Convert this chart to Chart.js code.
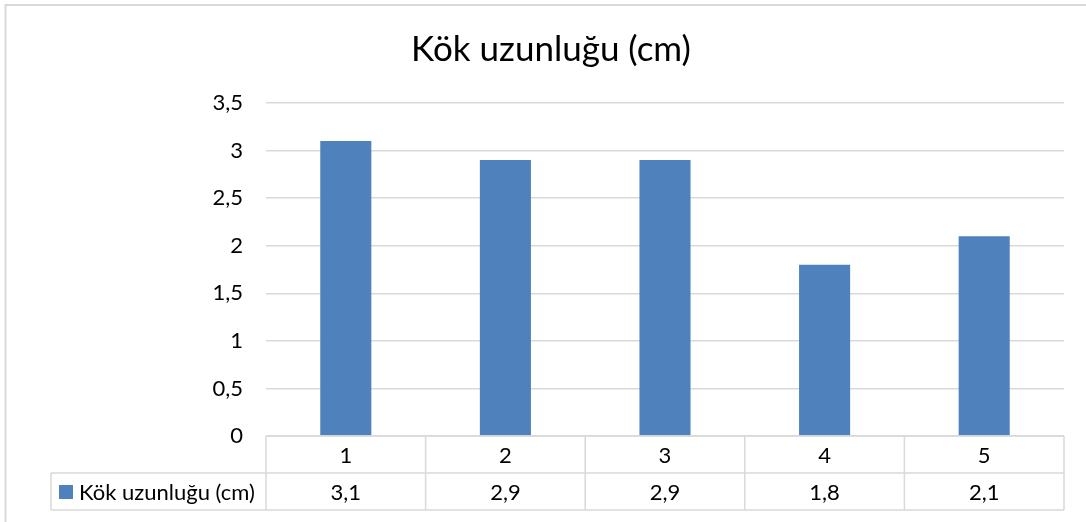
<!DOCTYPE html>
<html>
<head>
<meta charset="utf-8">
<script src="https://cdn.jsdelivr.net/npm/chart.js@4"></script>
<style>
    html, body { margin: 0; padding: 0; background: #fff; }
    #wrap { width: 1086px; height: 522px; }
</style>
</head>
<body>
<div id="wrap"><canvas id="rootChart"></canvas></div>
<script>
// Chart data
const categories = ['1', '2', '3', '4', '5'];
const rootLengths = [3.1, 2.9, 2.9, 1.8, 2.1];
const seriesName = 'Kök uzunluğu (cm)';
const chartTitle = 'Kök uzunluğu (cm)';

const FONT = "Lato, 'Open Sans', sans-serif";
const GRID = '#d9d9d9';
const BAR = '#4f81bd';

// format numbers with a decimal comma
const fmt = v => String(v).replace('.', ',');

// Draws the outer frame, the title and the data table under the plot
const excelDecor = {
    id: 'excelDecor',
    afterDraw(chart) {
        const { ctx, chartArea, scales } = chart;
        const x = scales.x;
        const rowH = 37;
        const top = chartArea.bottom;
        const legendLeft = 51;

        ctx.save();

        // outer frame
        ctx.strokeStyle = GRID;
        ctx.lineWidth = 2;
        ctx.beginPath();
        ctx.moveTo(5.5, 530);
        ctx.lineTo(5.5, 5);
        ctx.lineTo(1100, 5);
        ctx.stroke();

        // title
        ctx.fillStyle = '#000';
        ctx.font = `35px ${FONT}`;
        ctx.textAlign = 'center';
        ctx.textBaseline = 'middle';
        ctx.fillText(chartTitle, 551, 50);

        // table grid
        ctx.strokeStyle = GRID;
        ctx.lineWidth = 1.5;
        ctx.beginPath();
        ctx.moveTo(chartArea.left, top);
        ctx.lineTo(chartArea.right, top);
        ctx.moveTo(legendLeft, top + rowH);
        ctx.lineTo(chartArea.right, top + rowH);
        ctx.moveTo(legendLeft, top + 2 * rowH);
        ctx.lineTo(chartArea.right, top + 2 * rowH);
        ctx.moveTo(legendLeft, top + rowH);
        ctx.lineTo(legendLeft, top + 2 * rowH);
        const step = (chartArea.right - chartArea.left) / categories.length;
        for (let i = 0; i <= categories.length; i++) {
            const gx = chartArea.left + i * step;
            ctx.moveTo(gx, top);
            ctx.lineTo(gx, top + 2 * rowH);
        }
        ctx.stroke();

        // header and value cells
        ctx.fillStyle = '#000';
        ctx.font = `22px ${FONT}`;
        ctx.textAlign = 'center';
        categories.forEach((c, i) => {
            const cx = x.getPixelForValue(i);
            ctx.fillText(c, cx, top + rowH / 2 + 1);
            ctx.fillText(fmt(rootLengths[i]), cx, top + rowH * 1.5 + 1);
        });

        // legend key
        ctx.fillStyle = BAR;
        ctx.fillRect(59, top + rowH + 12, 14, 14);
        ctx.fillStyle = '#000';
        ctx.textAlign = 'left';
        ctx.fillText(seriesName, 79, top + rowH * 1.5 + 1);

        ctx.restore();
    }
};

new Chart(document.getElementById('rootChart'), {
    type: 'bar',
    data: {
        labels: categories,
        datasets: [{
            label: seriesName,
            data: rootLengths,
            backgroundColor: BAR,
            borderWidth: 0,
            barPercentage: 0.64,
            categoryPercentage: 0.5
        }]
    },
    options: {
        responsive: true,
        maintainAspectRatio: false,
        animation: false,
        layout: {
            padding: { top: 103, bottom: 86, right: 22, left: 0 }
        },
        plugins: {
            legend: { display: false },
            title: { display: false },
            tooltip: { enabled: false }
        },
        scales: {
            x: {
                display: false
            },
            y: {
                min: 0,
                max: 3.5,
                afterFit(scale) { scale.width = 266; },
                border: { display: false },
                grid: { color: GRID, lineWidth: 1.5, drawTicks: false },
                ticks: {
                    stepSize: 0.5,
                    padding: 23,
                    color: '#000',
                    font: { family: FONT, size: 22 },
                    callback: v => fmt(v)
                }
            }
        }
    },
    plugins: [excelDecor]
});
</script>
</body>
</html>
